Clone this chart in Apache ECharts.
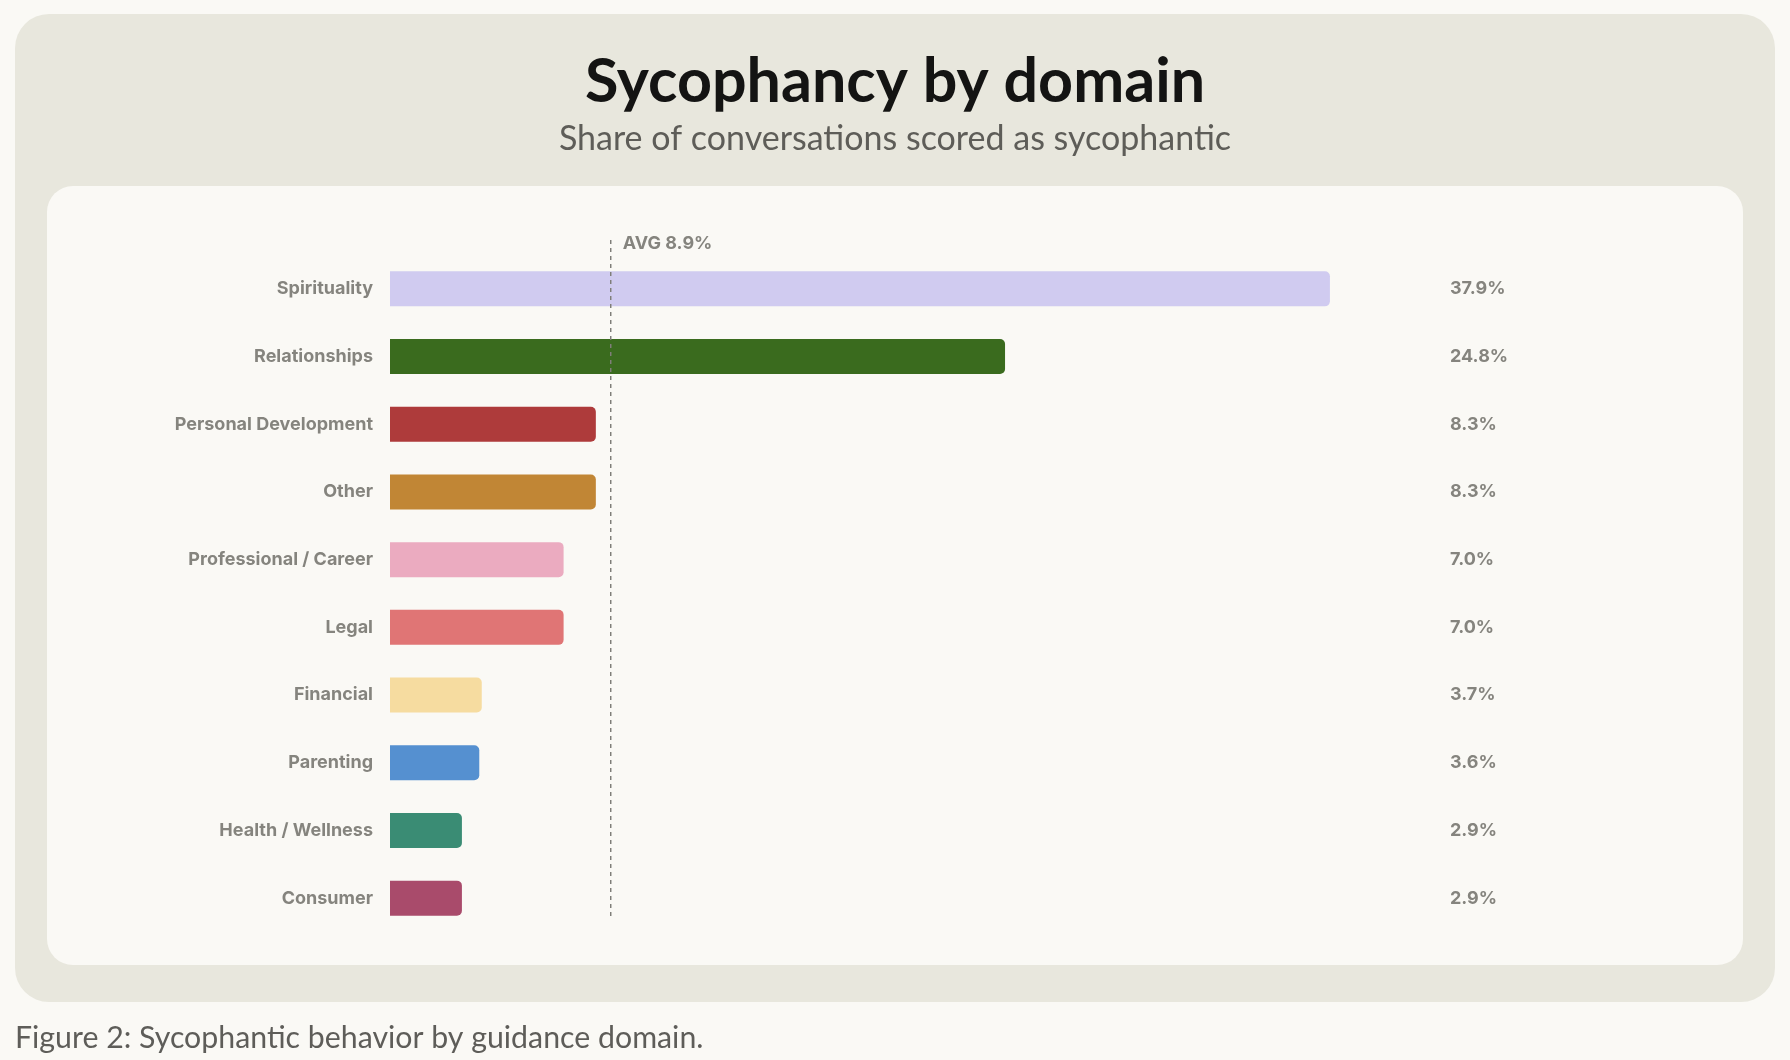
<!DOCTYPE html>
<html>
<head>
<meta charset="utf-8">
<script src="https://cdn.jsdelivr.net/npm/echarts@6/dist/echarts.min.js"></script>
<style>
html,body{margin:0;padding:0;background:#faf9f5;}
#chart{width:1790px;height:1060px;}
</style>
</head>
<body>
<div id="chart"></div>
<script>
const categories = ["Spirituality","Relationships","Personal Development","Other","Professional / Career","Legal","Financial","Parenting","Health / Wellness","Consumer"];
const values = [37.9, 24.8, 8.3, 8.3, 7.0, 7.0, 3.7, 3.6, 2.9, 2.9];
const barColors = ["#d0cbf0","#3a6b1e","#ae3b3b","#c18635","#ebabc0","#e07575","#f6dca0","#5590d0","#3a8c74","#a94b6b"];
const average = 8.9;
const titleText = "Sycophancy by domain";
const subtitleText = "Share of conversations scored as sycophantic";
const captionText = "Figure 2: Sycophantic behavior by guidance domain.";

const gray = "#85847e";
const labelFont = "Inter";

const chart = echarts.init(document.getElementById('chart'));
chart.setOption({
  backgroundColor: '#faf9f5',
  animation: false,
  graphic: [
    { type: 'rect', z: -10, shape: { x: 15, y: 14, width: 1760, height: 988, r: 34 }, style: { fill: '#e8e7dd' } },
    { type: 'rect', z: -9, shape: { x: 47, y: 186, width: 1696, height: 779, r: 26 }, style: { fill: '#faf9f5' } }
  ],
  title: [
    { text: titleText, left: 'center', top: 41,
      textStyle: { fontFamily: 'Lato', fontWeight: 'bold', fontSize: 61, lineHeight: 72, color: '#141413' } },
    { text: subtitleText, left: 'center', top: 114,
      textStyle: { fontFamily: 'Lato', fontWeight: 'normal', fontSize: 34, lineHeight: 40, color: '#5e5d58' } },
    { text: captionText, left: 10, top: 1014,
      textStyle: { fontFamily: 'Lato', fontWeight: 'normal', fontSize: 30.3, lineHeight: 38, color: '#5e5d59' } }
  ],
  grid: [
    { left: 390, right: 408, top: 255, bottom: 128, containLabel: false },
    { left: 390, right: 408, top: 236, bottom: 144, containLabel: false }
  ],
  xAxis: [
    { type: 'value', gridIndex: 0, min: 0, max: 40, show: false },
    { type: 'value', gridIndex: 1, min: 0, max: 40, show: false }
  ],
  yAxis: [
    { type: 'category', gridIndex: 0, data: categories, inverse: true,
      axisLine: { show: false }, axisTick: { show: false }, splitLine: { show: false },
      axisLabel: { margin: 17, color: gray, fontFamily: labelFont, fontWeight: 'bold', fontSize: 18 } },
    { type: 'category', gridIndex: 0, data: categories, inverse: true, position: 'right',
      axisLine: { show: false }, axisTick: { show: false }, splitLine: { show: false },
      axisLabel: { margin: 68, align: 'left', color: gray, fontFamily: labelFont, fontWeight: 'bold', fontSize: 18,
        formatter: function (v, i) { return values[i].toFixed(1) + '%'; } } },
    { type: 'value', gridIndex: 1, min: 0, max: 1, show: false }
  ],
  series: [
    { type: 'bar', xAxisIndex: 0, yAxisIndex: 0, barWidth: 35, z: 2,
      data: values.map(function (v, i) { return { value: v, itemStyle: { color: barColors[i], borderRadius: [0, 5, 5, 0] } }; }) },
    { type: 'line', xAxisIndex: 1, yAxisIndex: 2, z: 5, silent: true,
      symbol: 'circle', symbolSize: 0.1, showSymbol: true,
      lineStyle: { color: '#7f7e79', width: 1.5, type: [4, 4] },
      data: [
        [average, 0],
        { value: [average, 1], label: { show: true, position: 'right', distance: 12, offset: [0, 8],
          formatter: 'AVG ' + average.toFixed(1) + '%', color: gray, fontFamily: labelFont, fontWeight: 'bold', fontSize: 18 } }
      ] }
  ]
});
</script>
</body>
</html>
